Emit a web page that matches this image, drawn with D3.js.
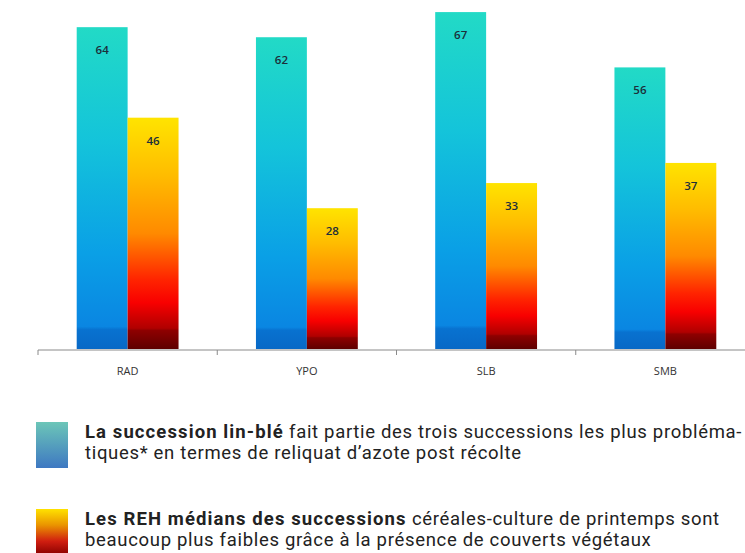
<!DOCTYPE html>
<html>
<head>
<meta charset="utf-8">
<script src="https://cdn.jsdelivr.net/npm/d3@7"></script>
<style>
  body { margin: 0; background: #fff; }
  svg { display: block; }
</style>
</head>
<body>
<svg id="viz" width="745" height="553"></svg>
<script>
// values
const categories = ["RAD", "YPO", "SLB", "SMB"];
const series = ["lin_ble", "cereales_printemps"];
const lin_ble = [64, 62, 67, 56];
const cereales_printemps = [46, 28, 33, 37];

const legend_lines = [
  [{ t: "La succession lin-blé", b: true }, { t: " fait partie des trois successions les plus probléma-", b: false }],
  [{ t: "tiques* en termes de reliquat d’azote post récolte", b: false }],
  [{ t: "Les REH médians des successions", b: true }, { t: " céréales-culture de printemps sont", b: false }],
  [{ t: "beaucoup plus faibles grâce à la présence de couverts végétaux", b: false }]
];

let svg = d3.select("#viz");
let defs = svg.append("defs");

function add_gradient(id, stops) {
  let g = defs.append("linearGradient")
    .attr("id", id)
    .attr("x1", 0).attr("y1", 0)
    .attr("x2", 0).attr("y2", 1);
  stops.forEach(s => g.append("stop").attr("offset", s[0]).attr("stop-color", s[1]));
}

add_gradient("grad_teal", [[0, "#22dac6"], [0.35, "#14c4da"], [0.7, "#0aa0e6"], [0.93, "#0a86e2"], [0.94, "#0872d0"], [1, "#0868c6"]]);
add_gradient("grad_orange", [[0, "#ffe400"], [0.25, "#ffbc00"], [0.5, "#ff8a00"], [0.7, "#ff2400"], [0.8, "#f80000"], [0.91, "#b00000"], [0.92, "#8e0000"], [1, "#5e0000"]]);
add_gradient("leg_teal", [[0, "#6cc6b8"], [1, "#3e78c2"]]);
add_gradient("leg_orange", [[0, "#ffe200"], [0.35, "#ea9400"], [0.7, "#d01e10"], [1, "#880000"]]);

const fills = { lin_ble: "url(#grad_teal)", cereales_printemps: "url(#grad_orange)" };

let x0 = d3.scaleBand().domain(categories).range([38, 755]).padding(0);
let x1 = d3.scaleBand().domain(series).range([0, x0.bandwidth()]).paddingInner(0).paddingOuter(0.76);
let y = d3.scaleLinear().domain([0, 70]).range([349, -3]);

let data = categories.map((c, i) => ({ cat: c, vals: [
  { key: "lin_ble", v: lin_ble[i] },
  { key: "cereales_printemps", v: cereales_printemps[i] }
] }));

let groups = svg.append("g").selectAll("g")
  .data(data)
  .join("g")
  .attr("transform", d => "translate(" + x0(d.cat) + ",0)");

groups.selectAll("rect")
  .data(d => d.vals)
  .join("rect")
  .attr("x", d => x1(d.key))
  .attr("y", d => y(d.v))
  .attr("width", x1.bandwidth())
  .attr("height", d => y(0) - y(d.v))
  .attr("fill", d => fills[d.key]);

groups.selectAll("text.val")
  .data(d => d.vals)
  .join("text")
  .classed("val", true)
  .attr("x", d => x1(d.key) + x1.bandwidth() / 2)
  .attr("y", d => y(d.v) + 27)
  .attr("text-anchor", "middle")
  .style("font-family", "'Open Sans', sans-serif")
  .style("font-size", "11.5px")
  .style("font-weight", "600")
  .style("fill", "#1b2e3a")
  .text(d => d.v);

// x axis
let axis = svg.append("g")
  .attr("transform", "translate(0,350)")
  .call(d3.axisBottom(x0).tickSize(0).tickPadding(17));
axis.select(".domain").attr("stroke", "#8a8a8a").attr("d", "M38,0H745");
axis.selectAll("text")
  .style("font-family", "'Open Sans', sans-serif")
  .style("font-size", "11px")
  .style("fill", "#333");

let tick_x = categories.map(c => x0(c));
svg.append("g").selectAll("line")
  .data(tick_x)
  .join("line")
  .attr("x1", d => d).attr("x2", d => d)
  .attr("y1", 350).attr("y2", 355)
  .attr("stroke", "#8a8a8a");

// legend
svg.append("rect").attr("x", 36).attr("y", 422).attr("width", 32).attr("height", 46).attr("fill", "url(#leg_teal)");
svg.append("rect").attr("x", 36).attr("y", 509).attr("width", 32).attr("height", 46).attr("fill", "url(#leg_orange)");

const line_y = [438, 458.5, 525, 546];
legend_lines.forEach((parts, i) => {
  let t = svg.append("text")
    .attr("x", 85)
    .attr("y", line_y[i])
    .style("font-family", "Roboto, sans-serif")
    .style("font-size", "18.5px")
    .style("fill", "#222");
  parts.forEach(p => t.append("tspan")
    .style("font-weight", p.b ? "700" : "400")
    .style("letter-spacing", p.b ? "1.1px" : "0.68px")
    .text(p.t));
});
</script>
</body>
</html>
